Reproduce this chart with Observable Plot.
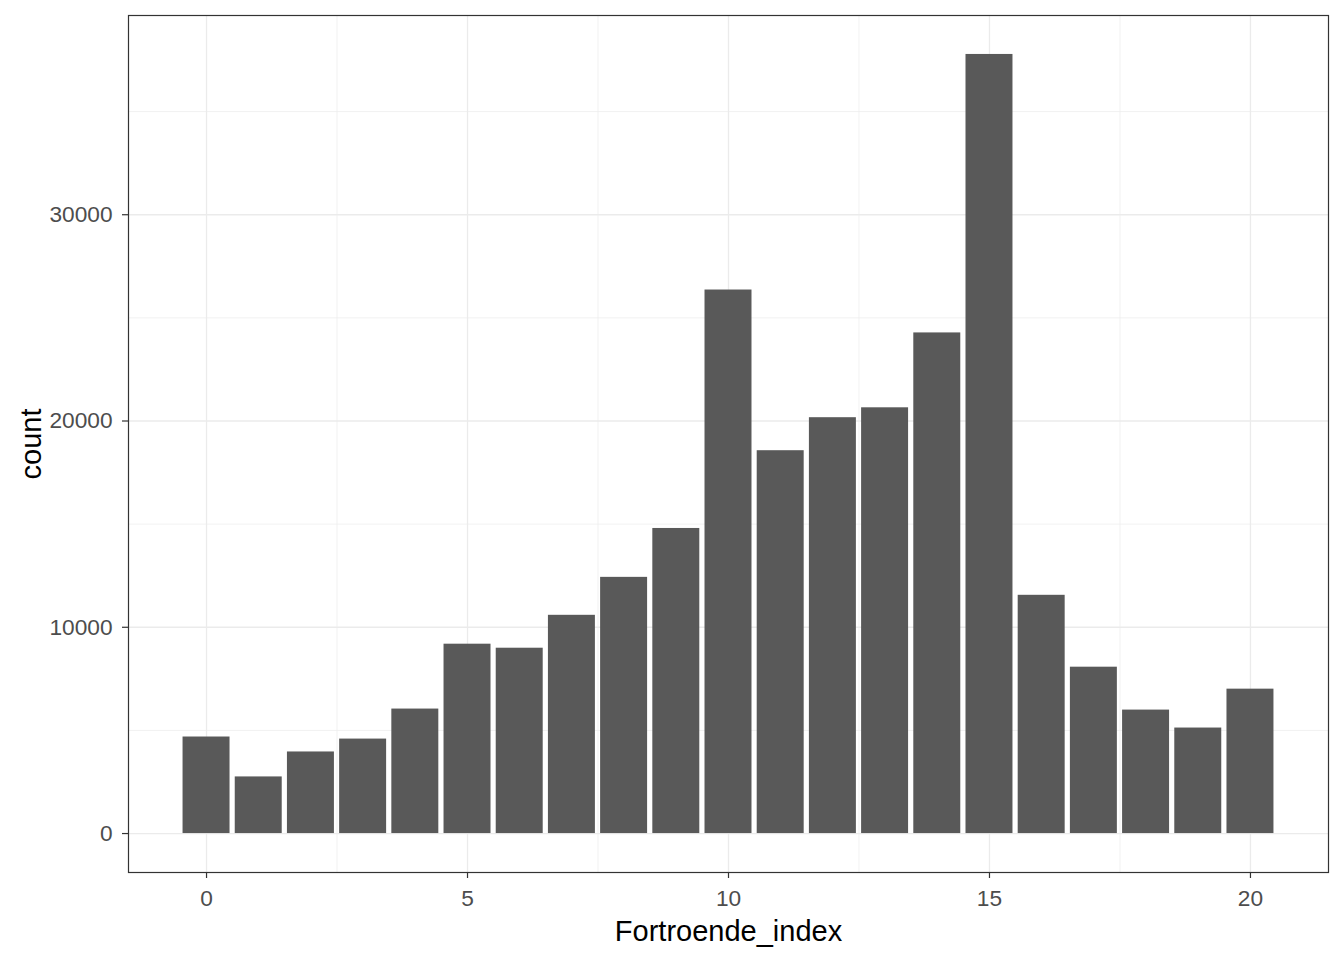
<!DOCTYPE html>
<html>
<head>
<meta charset="utf-8">
<script src="https://cdn.jsdelivr.net/npm/d3@7"></script>
<script src="https://cdn.jsdelivr.net/npm/@observablehq/plot@0.6"></script>
<style>
  html, body { margin: 0; padding: 0; background: #fff; }
  #chart { width: 1344px; height: 960px; }
</style>
</head>
<body>
<div id="chart"></div>
<script>
// Data
const indexValues = [0, 1, 2, 3, 4, 5, 6, 7, 8, 9, 10, 11, 12, 13, 14, 15, 16, 17, 18, 19, 20];
const counts = [4680, 2745, 3955, 4580, 6035, 9180, 8985, 10580, 12420, 14790, 26350, 18560, 20160, 20640, 24270, 37770, 11550, 8065, 5985, 5115, 7000];
const xMajorTicks = [0, 5, 10, 15, 20];
const xMinorTicks = [2.5, 7.5, 12.5, 17.5];
const yMajorTicks = [0, 10000, 20000, 30000];
const yMinorTicks = [5000, 15000, 25000, 35000];
const xTitle = "Fortroende_index";
const yTitle = "count";

const data = indexValues.map((v, i) => ({idx: v, count: counts[i]}));

// ggplot-like domains (bar width 0.9, 5% expansion)
const barHalf = 0.45;
const xLo = d3.min(indexValues) - barHalf, xHi = d3.max(indexValues) + barHalf;
const xPad = (xHi - xLo) * 0.05;
const yMax = d3.max(counts);
const yPad = yMax * 0.05;

const font = "'Liberation Sans', Arial, sans-serif";

const chart = Plot.plot({
  width: 1344,
  height: 960,
  marginLeft: 128,
  marginRight: 16,
  marginTop: 15,
  marginBottom: 88,
  style: {fontFamily: font, background: "#ffffff"},
  x: {domain: [xLo - xPad, xHi + xPad]},
  y: {domain: [-yPad, yMax + yPad]},
  marks: [
    Plot.ruleX(xMinorTicks, {stroke: "#EBEBEB", strokeWidth: 0.7}),
    Plot.ruleY(yMinorTicks, {stroke: "#EBEBEB", strokeWidth: 0.7}),
    Plot.ruleX(xMajorTicks, {stroke: "#EBEBEB", strokeWidth: 1.3}),
    Plot.ruleY(yMajorTicks, {stroke: "#EBEBEB", strokeWidth: 1.3}),
    Plot.rectY(data, {
      x1: d => d.idx - barHalf,
      x2: d => d.idx + barHalf,
      y1: 0,
      y2: "count",
      fill: "#595959",
      inset: 0
    }),
    Plot.frame({stroke: "#333333", strokeWidth: 1.2}),
    Plot.axisX({
      ticks: xMajorTicks, tickSize: 6, tickPadding: 11, tickFormat: d => String(d),
      fontSize: 22.7, label: null, stroke: "#333333", strokeWidth: 1.2,
      color: "#4D4D4D"
    }),
    Plot.axisY({
      ticks: yMajorTicks, tickSize: 6, tickPadding: 10, tickFormat: d => String(d),
      fontSize: 22.7, label: null, stroke: "#333333", strokeWidth: 1.2,
      color: "#4D4D4D"
    }),
    Plot.text([xTitle], {frameAnchor: "bottom", lineAnchor: "middle", textAnchor: "middle", dy: 59, fontSize: 29, fill: "#000000", text: d => d}),
    Plot.text([yTitle], {frameAnchor: "left", lineAnchor: "middle", textAnchor: "middle", dx: -97, rotate: -90, fontSize: 29, fill: "#000000", text: d => d})
  ]
});

document.getElementById("chart").appendChild(chart);
</script>
</body>
</html>
